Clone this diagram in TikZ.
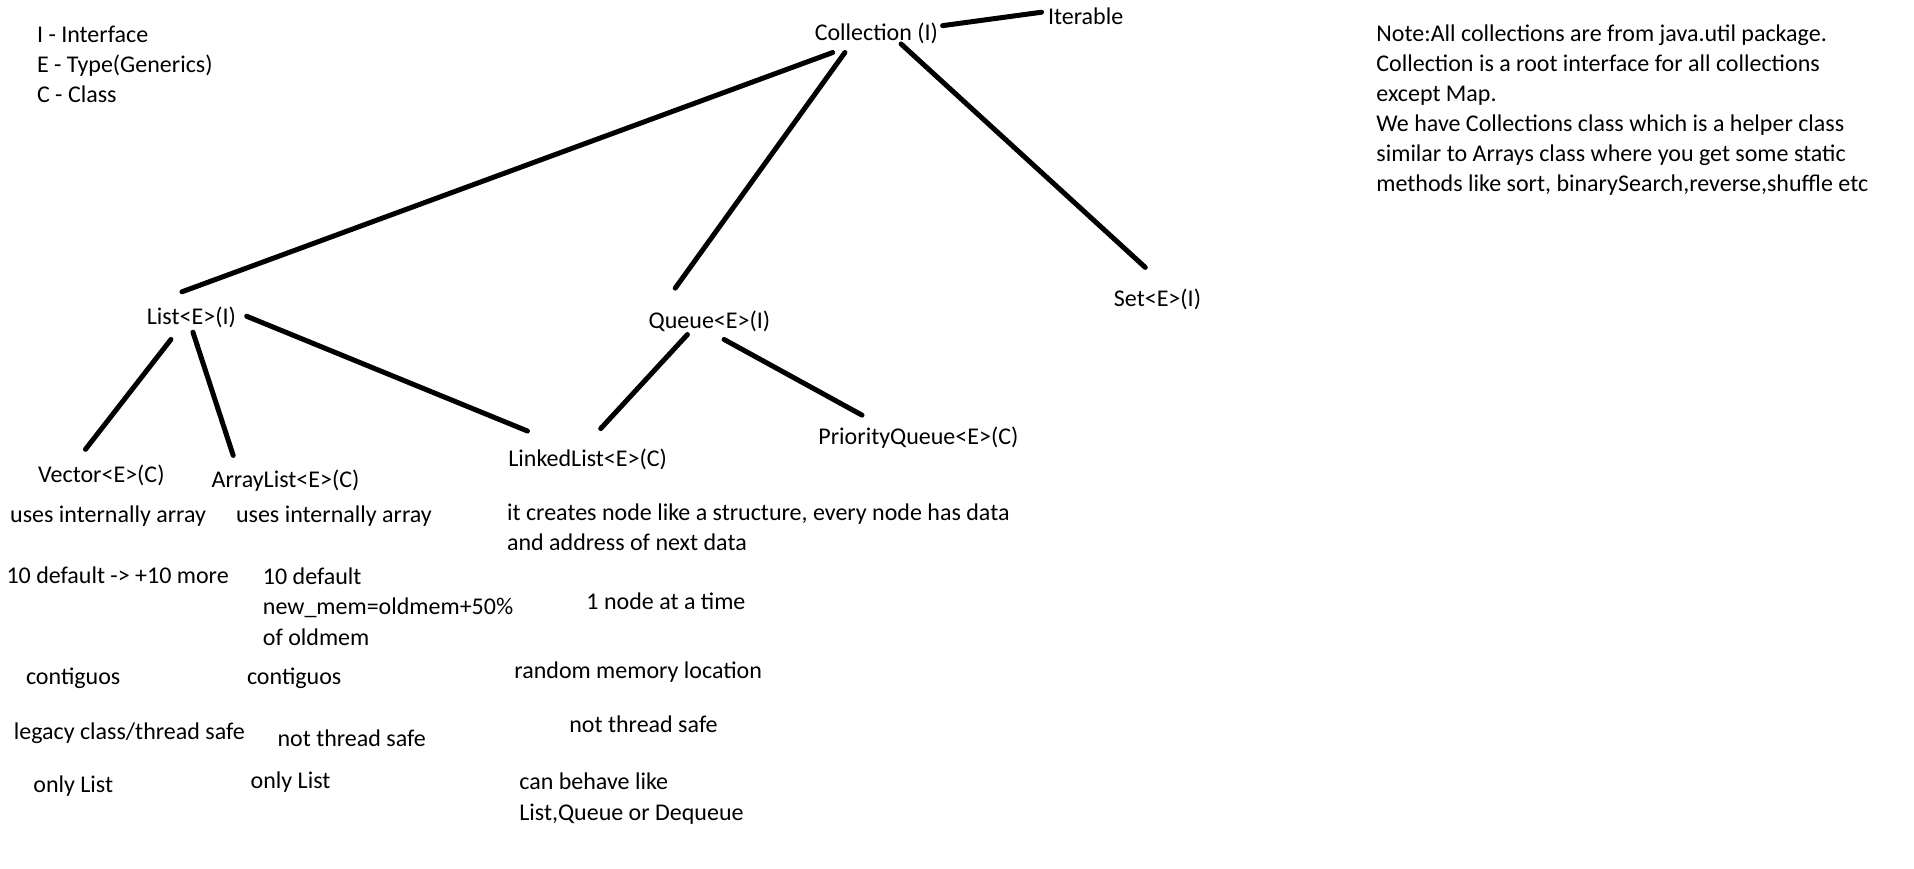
\documentclass[tikz,border=0pt]{standalone}
\usepackage{fontspec}
\setmainfont{Carlito}
\begin{document}
\begin{tikzpicture}[x=0.6105bp, y=-0.6105bp,
  txt/.style={right, inner sep=0pt, text height=12.2bp, text depth=2.45bp, font=\fontsize{12bp}{14.65bp}\selectfont},
  more/.style={txt, below right},
  branch/.style={line width=2.5bp, line cap=round}]
\useasboundingbox (0,0) rectangle (1567.6,711.7);
% legend and note
\node[txt] (leg1) at (30,27) {I - Interface};
\node[more] (leg2) at (leg1.south west) {E - Type(Generics)};
\node[more] (leg3) at (leg2.south west) {C - Class};
\node[txt] (note1) at (1127,26) {Note:All collections are from java.util package.};
\node[more] (note2) at (note1.south west) {Collection is a root interface for all collections};
\node[more] (note3) at (note2.south west) {except Map.};
\node[more] (note4) at (note3.south west) {We have Collections class which is a helper class};
\node[more] (note5) at (note4.south west) {similar to Arrays class where you get some static};
\node[more] (note6) at (note5.south west) {methods like sort, binarySearch,reverse,shuffle etc};
% hierarchy
\node[txt] (coll) at (667,25) {Collection (I)};
\node[txt] (iter) at (858,12) {Iterable};
\node[txt] (list) at (120,258) {List<E>(I)};
\node[txt] (queue) at (531,261) {Queue<E>(I)};
\node[txt] (set) at (912,243) {Set<E>(I)};
\node[txt] (vector) at (31,387) {Vector<E>(C)};
\node[txt] (alist) at (173,391) {ArrayList<E>(C)};
\node[txt] (llist) at (416,374) {LinkedList<E>(C)};
\node[txt] (pqueue) at (670,356) {PriorityQueue<E>(C)};
% Vector
\node[txt] (v1) at (8,420) {uses internally array};
\node[txt] (v2) at (5,470) {10 default -> +10 more};
\node[txt] (v3) at (21,553) {contiguos};
\node[txt] (v4) at (11,598) {legacy class/thread safe};
\node[txt] (v5) at (27,641) {only List};
% ArrayList
\node[txt] (a1) at (193,420) {uses internally array};
\node[txt] (a2) at (215,471) {10 default};
\node[more] (a2b) at (a2.south west) {new\_mem=oldmem+50\%};
\node[more] (a2c) at (a2b.south west) {of oldmem};
\node[txt] (a3) at (202,553) {contiguos};
\node[txt] (a4) at (227,603) {not thread safe};
\node[txt] (a5) at (205,638) {only List};
% LinkedList
\node[txt] (l1) at (415,418) {it creates node like a structure, every node has data};
\node[more] (l1b) at (l1.south west) {and address of next data};
\node[txt] (l2) at (480,491) {1 node at a time};
\node[txt] (l3) at (421,548) {random memory location};
\node[txt] (l4) at (466,592) {not thread safe};
\node[txt] (l5) at (425,639) {can behave like};
\node[more] (l5b) at (l5.south west) {List,Queue or Dequeue};

\draw[branch] ([shift={(105,-4)}]coll.west) -- ([shift={(-5,-2)}]iter.west);
\draw[branch] ([shift={(15,18)}]coll.west) -- ([shift={(29,-19)}]list.west);
\draw[branch] ([shift={(25,18)}]coll.west) -- ([shift={(22,-25)}]queue.west);
\draw[branch] ([shift={(71,11)}]coll.west) -- ([shift={(26,-24)}]set.west);
\draw[branch] ([shift={(20,20)}]list.west) -- ([shift={(39,-19)}]vector.west);
\draw[branch] ([shift={(38,14)}]list.west) -- ([shift={(18,-18)}]alist.west);
\draw[branch] ([shift={(82,1)}]list.west) -- ([shift={(16,-21)}]llist.west);
\draw[branch] ([shift={(32,13)}]queue.west) -- ([shift={(76,-23)}]llist.west);
\draw[branch] ([shift={(62,17)}]queue.west) -- ([shift={(36,-16)}]pqueue.west);
\end{tikzpicture}
\end{document}
